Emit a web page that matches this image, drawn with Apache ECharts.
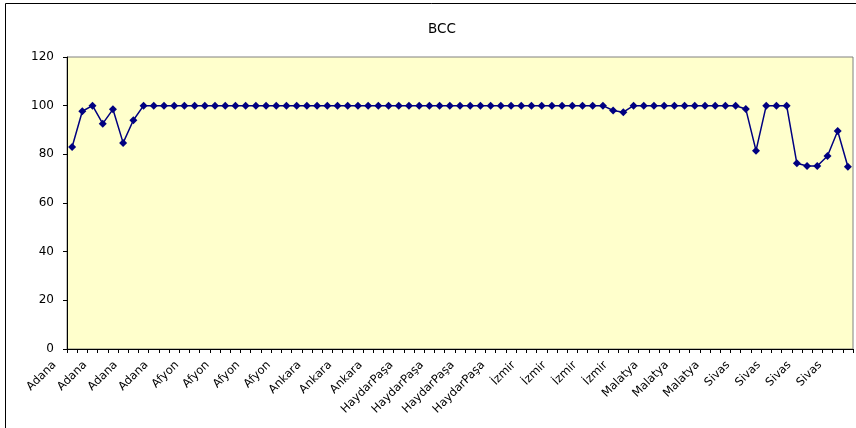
<!DOCTYPE html>
<html>
<head>
<meta charset="utf-8">
<script src="https://cdn.jsdelivr.net/npm/echarts@6/dist/echarts.min.js"></script>
<style>
html,body{margin:0;padding:0;background:#fff;}
#chart{width:856px;height:428px;}
</style>
</head>
<body>
<div id="chart"></div>
<script>
var title = 'BCC';
var categories = [
'Adana','Adana','Adana','Adana','Adana','Adana','Adana','Adana','Adana','Adana','Adana','Adana',
'Afyon','Afyon','Afyon','Afyon','Afyon','Afyon','Afyon','Afyon','Afyon','Afyon','Afyon','Afyon',
'Ankara','Ankara','Ankara','Ankara','Ankara','Ankara','Ankara','Ankara','Ankara',
'HaydarPaşa','HaydarPaşa','HaydarPaşa','HaydarPaşa','HaydarPaşa','HaydarPaşa','HaydarPaşa','HaydarPaşa','HaydarPaşa','HaydarPaşa','HaydarPaşa','HaydarPaşa',
'İzmir','İzmir','İzmir','İzmir','İzmir','İzmir','İzmir','İzmir','İzmir','İzmir','İzmir','İzmir',
'Malatya','Malatya','Malatya','Malatya','Malatya','Malatya','Malatya','Malatya','Malatya',
'Sivas','Sivas','Sivas','Sivas','Sivas','Sivas','Sivas','Sivas','Sivas','Sivas','Sivas'
];
var bccValues = [
83, 97.7, 100, 92.6, 98.5, 84.7, 94,
100, 100, 100, 100, 100, 100, 100, 100, 100, 100,
100, 100, 100, 100, 100, 100, 100, 100, 100, 100,
100, 100, 100, 100, 100, 100, 100, 100, 100, 100,
100, 100, 100, 100, 100, 100, 100, 100, 100, 100,
100, 100, 100, 100, 100, 100,
98, 97.3,
100, 100, 100, 100, 100, 100, 100, 100, 100, 100, 100,
98.6, 81.5, 100, 100, 100,
76.3, 75.2, 75.2, 79.3, 89.6, 74.9
];
var yMin = 0, yMax = 120, yStep = 20;

var chart = echarts.init(document.getElementById('chart'), null, {renderer: 'canvas'});
chart.setOption({
  animation: false,
  backgroundColor: '#ffffff',
  title: {
    text: title, left: 423, top: 17,
    textStyle: {fontFamily: 'DejaVu Sans, Liberation Sans, Arial', fontSize: 13.5, fontWeight: 'normal', color: '#000'}
  },
  graphic: [{
    type: 'rect', silent: true, z: -1,
    shape: {x: 5.5, y: 3.5, width: 900, height: 440},
    style: {fill: null, stroke: '#000', lineWidth: 1}
  }],
  grid: {
    left: 67, right: 3, top: 57, bottom: 79,
    show: true, backgroundColor: '#FFFFCC', borderColor: '#808080', borderWidth: 1
  },
  xAxis: {
    type: 'category', data: categories, boundaryGap: true,
    axisLine: {lineStyle: {color: '#000', width: 1}},
    axisTick: {show: true, interval: 0, length: 4, lineStyle: {color: '#000'}},
    axisLabel: {
      interval: 2, rotate: 45, fontFamily: 'DejaVu Sans, Liberation Sans, Arial', fontSize: 11.5,
      color: '#000', margin: 5, verticalAlign: 'bottom', padding: [0, 19, 0, 0]
    },
    splitLine: {show: false}
  },
  yAxis: {
    type: 'value', min: yMin, max: yMax, interval: yStep,
    axisLine: {show: true, lineStyle: {color: '#000', width: 1}},
    axisTick: {show: true, length: 4, lineStyle: {color: '#000'}},
    axisLabel: {fontFamily: 'DejaVu Sans, Liberation Sans, Arial', fontSize: 12, color: '#000', margin: 13},
    splitLine: {show: false}
  },
  series: [{
    type: 'line', data: bccValues,
    symbol: 'diamond', symbolSize: 8, showAllSymbol: true,
    lineStyle: {color: '#000080', width: 1.5},
    itemStyle: {color: '#000080', borderWidth: 0}
  }]
});
</script>
</body>
</html>
